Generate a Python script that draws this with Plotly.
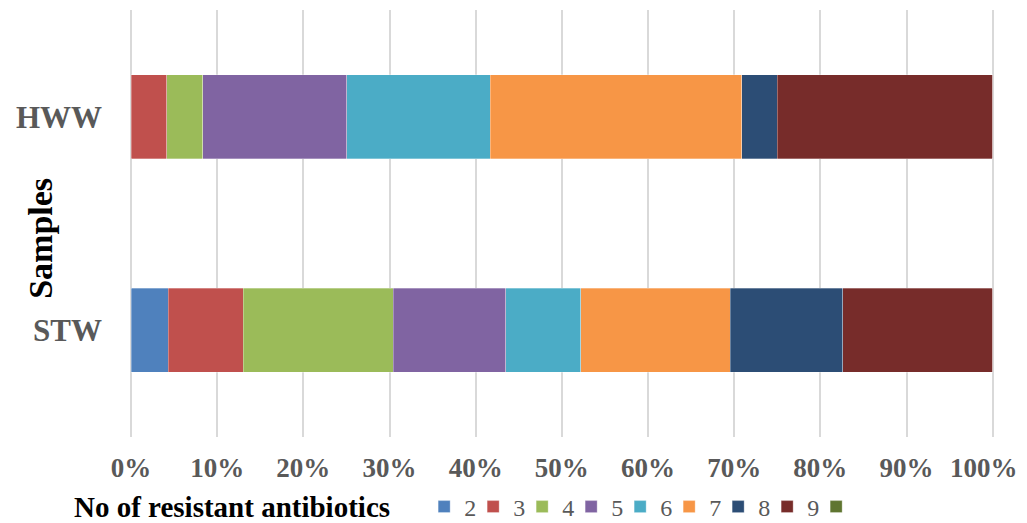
import plotly.graph_objects as go

samples = ["STW", "HWW"]
classes = ["2", "3", "4", "5", "6", "7", "8", "9", ""]
# share of isolates (%) resistant to n antibiotics, per sample
stw = [4.35, 8.70, 17.39, 13.04, 8.70, 17.39, 13.04, 17.39, 0]
hww = [0, 4.17, 4.17, 16.67, 16.67, 29.17, 4.17, 25.00, 0]
colors = ["#4F81BD", "#C0504D", "#9BBB59", "#8064A2", "#4BACC6",
          "#F79646", "#2C4D75", "#772C2A", "#5F7530"]
x_ticks = [0, 10, 20, 30, 40, 50, 60, 70, 80, 90, 100]

serif = "Liberation Serif, Times New Roman, serif"
tick_font = dict(family=serif, size=27, color="#595959", weight="bold")

fig = go.Figure()
for i, name in enumerate(classes):
    fig.add_trace(go.Bar(
        y=samples, x=[stw[i], hww[i]], name=name, orientation="h",
        marker=dict(color=colors[i], line=dict(width=0.6, color="rgba(255,255,255,0.5)")),
    ))

# the last tick label is nudged left so it stays inside the page
labels = [f"{v}%" for v in x_ticks]
last_label = labels[-1]
labels[-1] = ""

fig.update_layout(
    barmode="stack",
    bargap=0.605,
    width=1027, height=523,
    margin=dict(l=131, r=33, t=10, b=86, autoexpand=False),
    plot_bgcolor="white", paper_bgcolor="white",
    font=dict(family=serif),
    xaxis=dict(
        range=[0, 100.15], tickvals=x_ticks, ticktext=labels,
        showgrid=True, gridcolor="#D9D9D9", gridwidth=1.5,
        zeroline=True, zerolinecolor="#D9D9D9", zerolinewidth=1.5,
        showline=False, automargin=False,
        tickfont=tick_font, ticklabelstandoff=12,
    ),
    yaxis=dict(
        range=[-0.5, 1.5], showgrid=False, zeroline=False, showline=False,
        automargin=False,
        tickfont=dict(family=serif, size=31, color="#595959", weight="bold"),
        ticklabelstandoff=28,
    ),
    legend=dict(
        orientation="h", xref="container", yref="container",
        x=0.413, y=16 / 523, xanchor="left", yanchor="middle",
        bgcolor="rgba(0,0,0,0)",
        font=dict(family=serif, size=24, color="#595959"),
        traceorder="normal", entrywidth=4,
    ),
    annotations=[
        dict(text="<b>Samples</b>", textangle=-90, xref="paper", yref="paper",
             x=-0.105, y=0.465, xanchor="center", yanchor="middle", showarrow=False,
             font=dict(family=serif, size=34, color="black")),
        dict(text=last_label, xref="x", yref="paper", x=x_ticks[-1], y=0,
             xanchor="right", yanchor="top", xshift=27, yshift=-14,
             showarrow=False, font=tick_font),
        dict(text="<b>No of resistant antibiotics</b>", xref="paper", yref="paper",
             x=-59 / 863, y=-70 / 427, xanchor="left", yanchor="middle",
             showarrow=False, font=dict(family=serif, size=29, color="black")),
    ],
)

fig.write_html("out.html")
